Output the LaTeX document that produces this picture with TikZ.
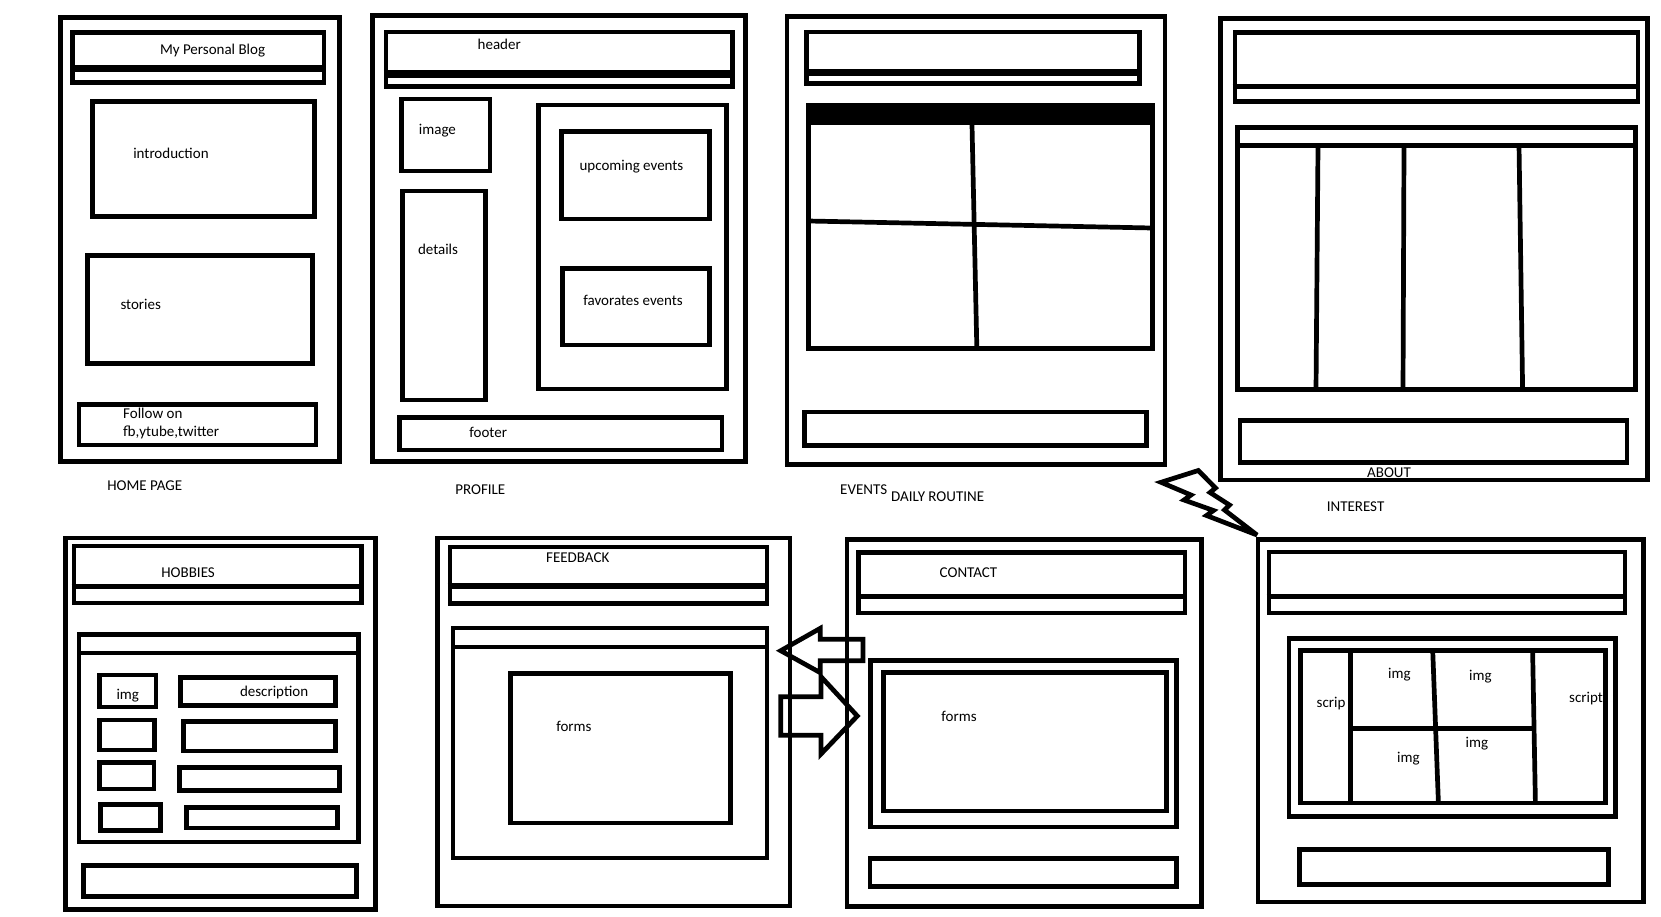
\documentclass[tikz,border=0pt]{standalone}
\usepackage{fontspec}
\setmainfont{Carlito}
\tikzset{
  wf/.style={line width=4.7pt, line join=miter, miter limit=3},
  lbl/.style={inner sep=0pt, anchor=mid west, yshift=-3.5pt, font=\fontsize{15}{18}\selectfont},
}
% header bar: x1 x2 ytop yband ybottom bandwidth
\newcommand\wfhdr[6]{%
  \draw[wf] (#1,#3) rectangle (#2,#5);
  \draw[line width=#6pt] (#1-2.35,#4) -- (#2+2.35,#4);}
\begin{document}
\begin{tikzpicture}[x=1pt,y=-1pt]
\fill[white] (0,0) rectangle (1661,917);
\useasboundingbox (0,0) rectangle (1661,917);

% ---------------- HOME PAGE ----------------
\draw[wf] (60.4,17.2) rectangle (339.3,461.3);
\wfhdr{72.8}{324.1}{32.8}{68.3}{82.8}{7}
\draw[wf] (92.3,101.3) rectangle (314.5,216.3);
\draw[wf] (87.2,255.7) rectangle (312.2,363.3);
\draw[wf] (79,404.2) rectangle (316.1,445);
\node[lbl] (blog) at (159.8,48.5) {My Personal Blog};
\node[lbl] (intro) at (133.1,153) {introduction};
\node[lbl] (stories) at (120.3,304) {stories};
\node[lbl] (follow) at (123,412.5) {Follow on};
\node[lbl] (social) at (123,430.5) {fb,ytube,twitter};
\node[lbl] (home) at (107.1,484.5) {HOME PAGE};

% ---------------- PROFILE ----------------
\draw[wf] (372.8,15.3) rectangle (745.5,461.3);
\wfhdr{386.1}{732.5}{32}{74.2}{86.2}{8.3}
\draw[wf] (401.7,99) rectangle (490.1,171);
\draw[wf] (402.7,191) rectangle (485.8,400);
\draw[wf] (399.4,417.7) rectangle (722,450);
\draw[wf] (538.6,105) rectangle (726.5,389);
\draw[wf] (561.5,131.7) rectangle (709.4,219);
\draw[wf] (562.4,268.3) rectangle (709.4,345);
\node[lbl] (hdrtxt) at (477.5,44) {header};
\node[lbl] (imagetxt) at (418.7,129) {image};
\node[lbl] (details) at (417.8,249) {details};
\node[lbl] (footertxt) at (469.2,432) {footer};
\node[lbl] (upcoming) at (579.4,164.5) {upcoming events};
\node[lbl] (favorates) at (583.1,300) {favorates events};
\node[lbl] (profile) at (455.1,489) {PROFILE};

% ---------------- EVENTS ----------------
\draw[wf] (786.9,16.2) rectangle (1165,464.7);
\wfhdr{806.4}{1139.3}{32}{72.7}{83.8}{6.7}
\fill (805.8,103.3) rectangle (1155,125);
\draw[wf] (808.2,105.5) rectangle (1152.5,348.7);
\draw[wf] (972,125) -- (976.8,347);
\draw[wf] (808,221) -- (1152,228);
\draw[wf] (804.6,412) rectangle (1146.5,445.3);
\node[lbl] (events) at (840,488.5) {EVENTS};
\node[lbl] (daily) at (891,496) {DAILY ROUTINE};

% ---------------- ABOUT ----------------
\draw[wf] (1220.5,18.5) rectangle (1647.5,480);
\wfhdr{1235}{1638}{32.5}{86.5}{101.5}{5}
\draw[wf] (1237.3,127.5) rectangle (1635.5,389.5);
\draw[wf] (1237.3,145.5) -- (1635.5,145.5);
\draw[wf] (1318,145.5) -- (1316,389.5);
\draw[wf] (1404,145.5) -- (1403,389.5);
\draw[wf] (1519,145.5) -- (1522.6,389.5);
\draw[wf] (1240,420.5) rectangle (1627,462.5);
\node[lbl] (about) at (1367,471.5) {ABOUT};
\node[lbl] (interest) at (1326.6,506) {INTEREST};

% lightning bolt between ABOUT and INTEREST
\draw[wf] (1161,482.3) -- (1198.3,470.5) -- (1215.5,488) -- (1210,492.5)
  -- (1229.5,505) -- (1224.5,510) -- (1257,535) -- (1206.5,515.5)
  -- (1213.5,510.5) -- (1184,500) -- (1191,495) -- cycle;

% ---------------- HOBBIES ----------------
\draw[wf] (65.3,538) rectangle (375.5,909.7);
\wfhdr{74}{361.2}{546}{586.7}{603}{5.3}
\draw[wf] (79.1,634.3) rectangle (358.2,842);
\draw[wf] (79.1,653) -- (358.2,653);
\draw[wf] (99.5,675) rectangle (156.1,707);
\draw[wf] (180.6,677.5) rectangle (335.7,705.3);
\draw[wf] (99.5,720) rectangle (154.6,750);
\draw[wf] (183.7,721.7) rectangle (335.2,751);
\draw[wf] (99.5,762.7) rectangle (154.1,789);
\draw[wf] (179.6,767.7) rectangle (339.8,790.3);
\draw[wf] (100.5,804.3) rectangle (160.2,830.7);
\draw[wf] (186.7,807.7) rectangle (337.8,828);
\draw[wf] (83.7,865.7) rectangle (356.6,896.7);
\node[lbl] (hobbies) at (161.2,571.5) {HOBBIES};
\node[lbl] (himg) at (116.3,694) {img};
\node[lbl] (hdesc) at (239.8,690.5) {description};

% ---------------- FEEDBACK ----------------
\draw[wf] (437.2,538) rectangle (790,906);
\wfhdr{450}{767}{547}{586}{603.3}{6.7}
\draw[wf] (453,628) rectangle (767,858);
\draw[wf] (453,647) -- (767,647);
\draw[wf] (510.2,673.3) rectangle (730.6,823);
\node[lbl] (feedback) at (546,557) {FEEDBACK};
\node[lbl] (fforms) at (556.1,725.5) {forms};

% arrows between FEEDBACK and CONTACT
\draw[wf] (780.7,650.7) -- (820.3,628.3) -- (820.3,639.2) -- (863,639.2)
  -- (863,660.8) -- (820.3,660.8) -- (820.3,672.7) -- cycle;
\draw[wf] (780.8,696.7) -- (821,696.7) -- (821,676.7) -- (857.3,716)
  -- (821,754) -- (821,735.3) -- (780.8,735.3) -- cycle;

% ---------------- CONTACT ----------------
\draw[wf] (846.9,539.5) rectangle (1201.5,906.3);
\wfhdr{858.7}{1185}{552.5}{596.8}{613}{5}
\draw[wf] (870.5,660.5) rectangle (1176.6,827);
\draw[wf] (883.5,672.5) rectangle (1166.5,811);
\draw[wf] (869.9,858.7) rectangle (1176.6,886.3);
\node[lbl] (contact) at (939.5,572) {CONTACT};
\node[lbl] (cforms) at (941.2,715.5) {forms};

% ---------------- INTEREST ----------------
\draw[wf] (1258,539.5) rectangle (1643.5,902);
\wfhdr{1269}{1625}{552}{596.3}{613}{4.7}
\draw[wf] (1289,638.7) rectangle (1615.5,816.5);
\draw[wf] (1300.2,650.3) rectangle (1605.5,803);
\draw[wf] (1350.8,650.3) -- (1350.8,803);
\draw[wf] (1432.8,653) -- (1438.4,803);
\draw[wf] (1532.6,650.3) -- (1535.4,803);
\draw[wf] (1350.8,728.3) -- (1534,728.3);
\draw[wf] (1299.7,849.5) rectangle (1608.5,884.5);
\node[lbl] (img1) at (1388,673) {img};
\node[lbl] (img2) at (1469,675) {img};
\node[lbl] (scr1) at (1316.5,702) {scrip};
\node[lbl] (scr2) at (1569,697) {script};
\node[lbl] (img3) at (1397,757) {img};
\node[lbl] (img4) at (1465.4,742) {img};
\end{tikzpicture}
\end{document}
